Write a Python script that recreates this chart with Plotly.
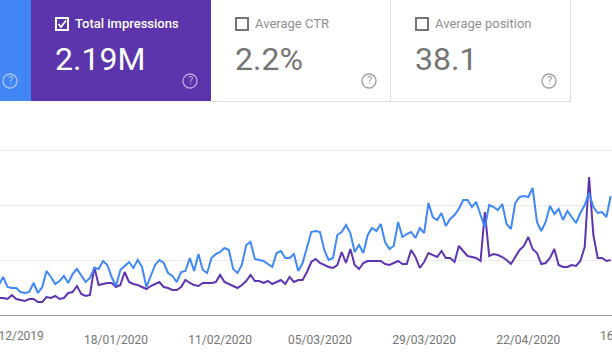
import pandas as pd
import plotly.graph_objects as go

W, H, AXIS_Y = 612, 361, 315

clicks = [30,38,28,27,27,23,22,23,32,22,28,44,38,31,34,39,32,41,46,40,33,37,47,46,54,50,38,29,45,49,53,47,55,48,28,39,50,55,52,42,39,33,43,44,57,44,61,45,
          42,57,61,63,67,65,46,42,50,70,73,56,55,54,51,48,62,64,57,57,61,44,52,68,83,84,83,65,55,57,80,83,90,82,63,70,62,80,87,84,91,73,66,69,93,78,81,
          83,77,87,82,112,98,95,102,89,96,100,106,115,115,108,113,100,88,110,108,105,111,91,86,112,118,119,118,127,93,84,93,109,101,106,95,104,98,92,102,110,122,108,102,103,98,119]
impressions = [17,17,16,20,16,15,14,16,16,13,13,18,17,19,16,17,22,23,29,21,19,20,48,30,31,32,32,28,30,43,33,31,30,28,26,29,31,33,28,27,25,25,28,35,32,30,29,32,
               32,32,33,40,33,31,29,27,30,34,40,34,34,32,34,31,33,35,31,38,33,35,35,43,53,56,52,50,48,47,50,63,52,66,50,46,52,54,54,54,54,51,50,52,54,51,51,
               65,58,47,53,62,60,58,64,57,57,53,69,64,59,58,57,54,103,59,61,60,58,55,51,58,65,69,78,66,62,51,52,57,66,50,48,48,50,49,54,68,138,80,57,57,54,55]
dates = pd.date_range("2019-12-22", periods=len(clicks), freq="D")
tick_dates = ["2020-01-18", "2020-02-11", "2020-03-05", "2020-03-29", "2020-04-22"]
tick_labels = ["18/01/2020", "11/02/2020", "05/03/2020", "29/03/2020", "22/04/2020"]
first_tick_label = "25/12/2019"
last_tick_label = "16/05/2020"
grid_values = [55, 110, 165]

BLUE, PURPLE = "#4285f4", "#5e35b1"
GREY_TXT, GREY_LBL, BORDER = "#757575", "#8f8f8f", "#e0e0e0"

def px(x): return x / W
def py(y): return (AXIS_Y - y) / AXIS_Y

fig = go.Figure()
fig.add_trace(go.Scatter(x=dates, y=impressions, mode="lines", line=dict(color=PURPLE, width=2), hoverinfo="skip"))
fig.add_trace(go.Scatter(x=dates, y=clicks, mode="lines", line=dict(color="#3f88f6", width=2), hoverinfo="skip"))

shapes, ann = [], []

def rect(x0, y0, x1, y1, fill=None, line=None, lw=1, r=None):
    shapes.append(dict(type="rect", xref="paper", yref="paper", x0=px(x0), x1=px(x1), y0=py(y1), y1=py(y0),
                       fillcolor=fill or "rgba(0,0,0,0)", line=dict(color=line or "rgba(0,0,0,0)", width=lw if line else 0), layer="above"))

def seg(x0, y0, x1, y1, c=BORDER, lw=1):
    shapes.append(dict(type="line", xref="paper", yref="paper", x0=px(x0), x1=px(x1), y0=py(y0), y1=py(y1),
                       line=dict(color=c, width=lw), layer="above"))

def text(x, y, s, size, color, anchor="left", weight=400):
    ann.append(dict(xref="paper", yref="paper", x=px(x), y=py(y), text=s, showarrow=False, xanchor=anchor, yanchor="middle",
                    font=dict(family="Roboto", size=size, color=color, weight=weight), borderpad=0, borderwidth=0))

def help_icon(cx, cy, c):
    shapes.append(dict(type="circle", xref="paper", yref="paper", x0=px(cx - 7), x1=px(cx + 7), y0=py(cy + 7), y1=py(cy - 7),
                       line=dict(color=c, width=1.3), fillcolor="rgba(0,0,0,0)", layer="above"))
    text(cx, cy, "?", 11, c, "center")

# cards
rect(0, 0, 31, 101, fill=BLUE)
rect(31, 0, 211, 101, fill="#5c34ab")
seg(211, 101.5, 571, 101.5)
seg(390.5, 0, 390.5, 101)
seg(570.5, 0, 570.5, 101)

# checkboxes
rect(56, 18, 68, 30, line="#ffffff", lw=2)
shapes.append(dict(type="path", xref="paper", yref="paper", layer="above",
                   path=f"M {px(58.5)} {py(24)} L {px(61)} {py(27)} L {px(66)} {py(20.5)}",
                   line=dict(color="#ffffff", width=1.8)))
rect(236, 18, 248, 30, line="#757575", lw=2)
rect(416, 18, 428, 30, line="#757575", lw=2)

text(75, 24, "Total impressions", 13, "#ffffff", weight=500)
text(255, 24, "Average CTR", 13, GREY_LBL)
text(435, 24, "Average position", 13, GREY_LBL)
text(55, 59, "2.19M", 32, "#ffffff")
text(235, 59, "2.2%", 32, GREY_TXT)
text(415, 59, "38.1", 32, GREY_TXT)

help_icon(10, 81, "#a9c6fa")
help_icon(190, 81, "#b9a6de")
help_icon(369, 81, "#9e9e9e")
help_icon(549, 81, "#9e9e9e")

text(12, 336, first_tick_label, 12, GREY_TXT, "center")
text(632, 336, last_tick_label, 12, GREY_TXT, "center")

fig.update_layout(
    width=W, height=H, margin=dict(l=0, r=0, t=0, b=H - AXIS_Y, pad=0),
    paper_bgcolor="#ffffff", plot_bgcolor="#ffffff", showlegend=False, shapes=shapes, annotations=ann,
    xaxis=dict(range=["2019-12-22 06:29", "2020-05-11 07:00"], tickmode="array", tickvals=tick_dates, ticktext=tick_labels,
               showgrid=False, zeroline=False, showline=True, linecolor="#9e9e9e", linewidth=1,
               ticks="outside", ticklen=14, tickcolor="rgba(0,0,0,0)", tickangle=0,
               tickfont=dict(family="Roboto", size=12, color=GREY_TXT)),
    yaxis=dict(range=[0, AXIS_Y], tickmode="array", tickvals=grid_values, showticklabels=False, ticks="",
               showgrid=True, gridcolor="#ebebeb", gridwidth=1, zeroline=False),
)
fig.write_html("out.html", config=dict(displayModeBar=False),
               post_script="document.body.style.margin='0';document.body.style.overflow='hidden';")
